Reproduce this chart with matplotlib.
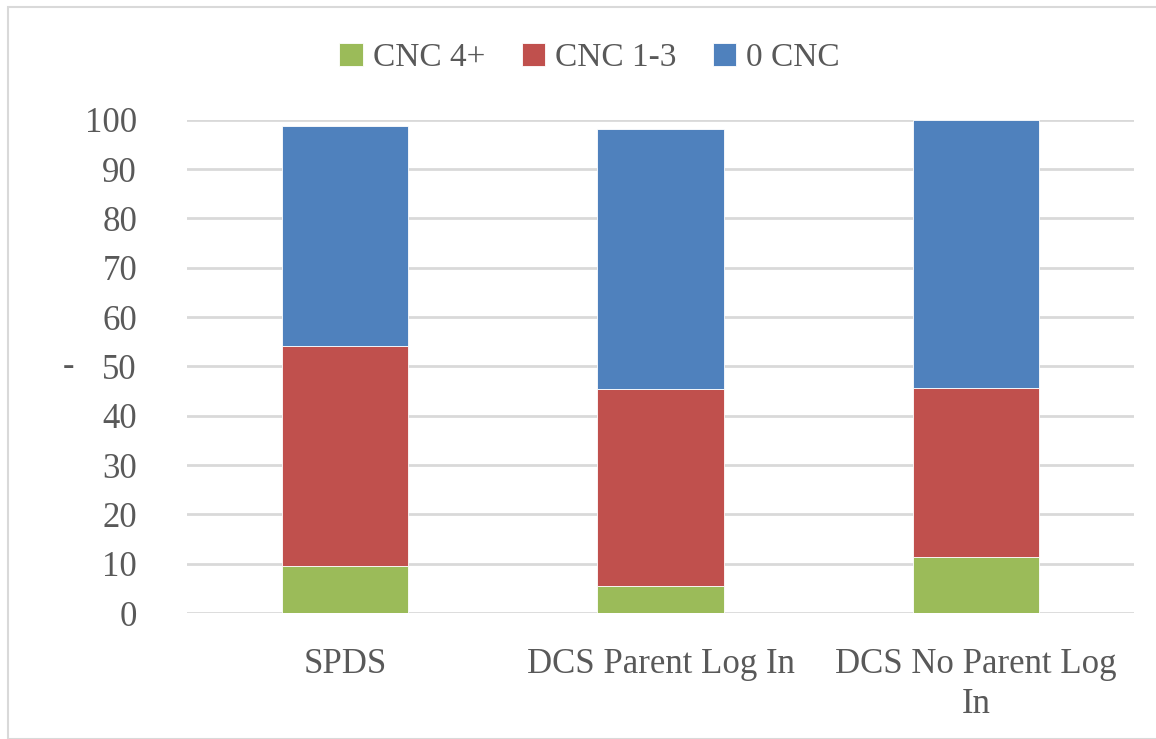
import matplotlib.pyplot as plt
import numpy as np

# Stacked share of each group (percent)
categories = ["SPDS", "DCS Parent Log In", "DCS No Parent Log\nIn"]
cnc_4plus = [9.6, 5.4, 11.4]
cnc_1to3 = [44.6, 40.0, 34.3]
cnc_0 = [44.6, 52.7, 54.3]

plt.rcParams['font.family'] = ['Liberation Serif', 'DejaVu Serif']
text_color = '#595959'

fig = plt.figure(figsize=(11.56, 7.39), dpi=100)
ax = fig.add_axes([0.1618, 0.1705, 0.8192, 0.6675])

x = np.arange(len(categories))
w = 0.4
b1 = ax.bar(x, cnc_4plus, w, color='#9bbb59', edgecolor='white', lw=0.6, label='CNC 4+', zorder=3)
b2 = ax.bar(x, cnc_1to3, w, bottom=cnc_4plus, color='#c0504d', edgecolor='white', lw=0.6,
            label='CNC 1-3', zorder=3)
bottom2 = np.array(cnc_4plus) + np.array(cnc_1to3)
b3 = ax.bar(x, cnc_0, w, bottom=bottom2, color='#4f81bd', edgecolor='white', lw=0.6,
            label='0 CNC', zorder=3)

ax.set_xlim(-0.5, 2.5)
ax.set_ylim(0, 100)
ax.set_yticks(np.arange(0, 101, 10))
ax.grid(axis='y', color='#d9d9d9', lw=2, zorder=0)
for s in ax.spines.values():
    s.set_visible(False)
ax.tick_params(length=0, labelsize=25, colors=text_color, pad=36)
ax.tick_params(axis='x', pad=25)
ax.set_xticks(x)
ax.set_xticklabels(categories, linespacing=1.3)
ax.set_ylabel('-', fontsize=25, color=text_color, rotation=0, labelpad=12, va='center')

fig.legend(handles=[b1, b2, b3], loc='center', bbox_to_anchor=(0.51, 0.922), ncol=3,
           frameon=False, fontsize=24, labelcolor=text_color, handlelength=0.7,
           handleheight=0.7, handletextpad=0.3, columnspacing=1.1)

# light frame around the chart
fig.patches.append(plt.Rectangle((0.007, 0.0), 0.995, 0.99, transform=fig.transFigure,
                                 fill=False, edgecolor='#d9d9d9', lw=1.5))

fig.savefig('out.png', dpi=100)
